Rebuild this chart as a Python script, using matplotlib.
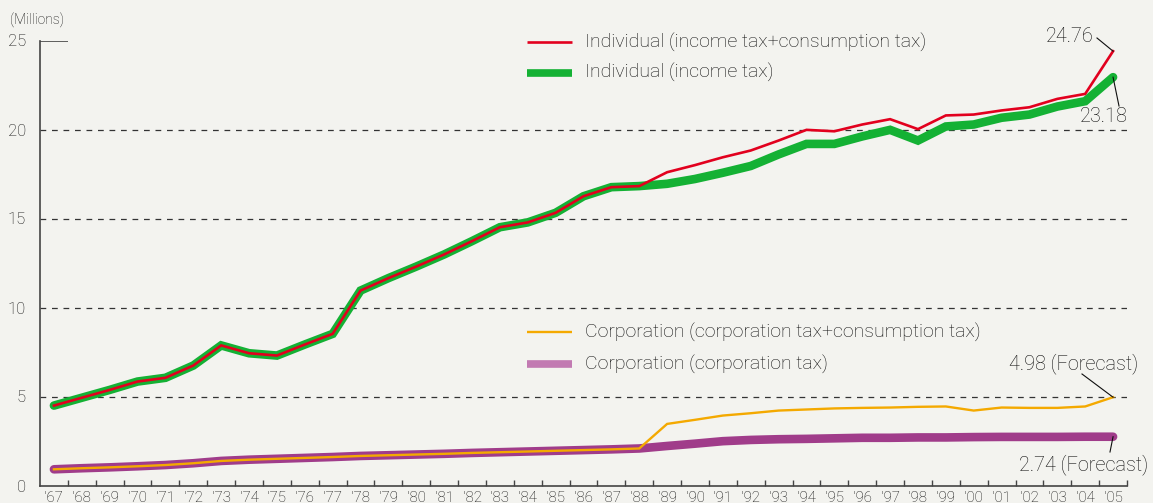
import matplotlib
matplotlib.use("Agg")
import matplotlib.pyplot as plt
from matplotlib.lines import Line2D
import numpy as np

plt.rcParams['font.family'] = ['Roboto', 'DejaVu Sans']
plt.rcParams['font.weight'] = 'light'

years = list(range(1967, 2006))
year_labels = ["'" + str(y)[2:] for y in years]

indiv_total = [4.49, 4.93, 5.37, 5.84, 6.05, 6.74, 7.87, 7.43, 7.30, 7.92,
               8.52, 10.95, 11.65, 12.3, 12.98, 13.73, 14.51, 14.78, 15.32, 16.25,
               16.76, 16.82, 17.6, 18.0, 18.44, 18.82, 19.38, 19.98, 19.9, 20.28,
               20.58, 20.02, 20.79, 20.84, 21.07, 21.25, 21.72, 22.0, 24.4]
indiv_income = [4.49, 4.93, 5.37, 5.84, 6.05, 6.74, 7.87, 7.43, 7.30, 7.92,
                8.52, 10.95, 11.65, 12.3, 12.98, 13.73, 14.51, 14.78, 15.32, 16.25,
                16.76, 16.82, 16.95, 17.22, 17.57, 17.95, 18.6, 19.19, 19.19, 19.61,
                19.98, 19.38, 20.17, 20.28, 20.66, 20.84, 21.29, 21.59, 22.94]
corp_total = [0.91, 0.97, 1.02, 1.08, 1.15, 1.25, 1.38, 1.45, 1.50, 1.55,
              1.60, 1.66, 1.70, 1.74, 1.78, 1.83, 1.87, 1.91, 1.95, 1.99,
              2.03, 2.08, 3.46, 3.69, 3.93, 4.06, 4.21, 4.27, 4.33, 4.36,
              4.38, 4.42, 4.44, 4.21, 4.38, 4.36, 4.36, 4.44, 4.96]
corp_tax = [0.91, 0.97, 1.02, 1.08, 1.15, 1.25, 1.38, 1.45, 1.50, 1.55,
            1.60, 1.66, 1.70, 1.74, 1.78, 1.83, 1.87, 1.91, 1.95, 1.99,
            2.03, 2.08, 2.22, 2.35, 2.49, 2.56, 2.60, 2.62, 2.65, 2.68,
            2.68, 2.70, 2.70, 2.72, 2.73, 2.73, 2.73, 2.74, 2.74]

yticks = [0, 5, 10, 15, 20, 25]
grid_levels = [5, 10, 15, 20]

legend_labels = ["Individual (income tax+consumption tax)", "Individual (income tax)",
                 "Corporation (corporation tax+consumption tax)", "Corporation (corporation tax)"]

BG = '#f3f3ef'
RED = '#e2001e'
GREEN = '#14b134'
ORANGE = '#f4a900'
PURPLE = '#a03c8a'
PURPLE_LEG = '#c27ab2'
INK = '#0e0e0e'

W, H = 1153, 503
fig = plt.figure(figsize=(W / 100, H / 100), dpi=100, facecolor=BG)

def fx(px):
    return px / W

def fy(py):
    return 1 - py / H

ax = fig.add_axes([fx(40), fy(485.5), fx(1127) - fx(40), fy(40.5) - fy(485.5)])
ax.set_facecolor(BG)
ax.set_xlim(1966.5, 2005.5)
ax.set_ylim(0, 25)

for s in ['top', 'right']:
    ax.spines[s].set_visible(False)
for s in ['left', 'bottom']:
    ax.spines[s].set_color('#444444')
    ax.spines[s].set_linewidth(1.2)

for g in grid_levels:
    ax.axhline(g, color='#333333', lw=0.9, dashes=(4.6, 4.6), zorder=1)
ax.hlines(25, 0, 1 / 39, transform=ax.get_yaxis_transform(), color='#444444', lw=1.2)

ax.plot(years, indiv_income, color=GREEN, lw=6.2, solid_capstyle='round',
        solid_joinstyle='miter', zorder=3)
ax.plot(years, indiv_total, color=RED, lw=1.9, solid_joinstyle='miter', zorder=4)
ax.plot(years, corp_tax, color=PURPLE, lw=6.2, solid_capstyle='round',
        solid_joinstyle='miter', zorder=3)
ax.plot(years, corp_total, color=ORANGE, lw=1.7, solid_joinstyle='miter', zorder=4)

ax.set_yticks(yticks)
ax.set_yticklabels([str(v) for v in yticks], fontsize=12, color=INK)
ax.tick_params(axis='y', length=0, pad=10)

ax.set_xticks(years)
ax.set_xticklabels(year_labels, fontsize=10.8, color=INK)
ax.set_xticks([y + 0.5 for y in years], minor=True)
ax.tick_params(axis='x', which='major', length=0, pad=4)
ax.tick_params(axis='x', which='minor', direction='in', length=4.5, width=1.0, color='#444444')

fig.text(fx(10), fy(20), "(Millions)", fontsize=10, color=INK, va='center', ha='left')

# legend
leg_y = [42, 73, 332, 364]
leg_col = [RED, GREEN, ORANGE, PURPLE_LEG]
leg_lw = [1.9, 5.5, 1.7, 5.5]
for yy, c, lw, lab in zip(leg_y, leg_col, leg_lw, legend_labels):
    fig.add_artist(Line2D([fx(527), fx(572)], [fy(yy), fy(yy)], color=c, lw=lw,
                          solid_capstyle='butt'))
    fig.text(fx(585), fy(yy), lab, fontsize=14, color=INK, va='center', ha='left')

# annotations
def annot(text, xy_end, text_px, line_start_px, ha):
    fig.text(fx(text_px[0]), fy(text_px[1]), text, fontsize=14.3, color=INK,
             va='center', ha=ha)
    xd, yd = xy_end
    p = ax.transData.transform((xd, yd))
    fig.add_artist(Line2D([fx(line_start_px[0]), p[0] / fig.dpi / fig.get_figwidth()],
                          [fy(line_start_px[1]), p[1] / fig.dpi / fig.get_figheight()],
                          color=INK, lw=0.8))

annot("24.76", (years[-1], indiv_total[-1]), (1094, 36), (1097, 38), 'right')
annot("23.18", (years[-1], indiv_income[-1]), (1128, 117), (1119, 106), 'right')
annot("4.98 (Forecast)", (years[-1], corp_total[-1]), (1138, 364), (1082, 374), 'right')
annot("2.74 (Forecast)", (years[-1], corp_tax[-1]), (1148, 465), (1110, 452), 'right')

fig.savefig('out.png', dpi=100, facecolor=BG)
